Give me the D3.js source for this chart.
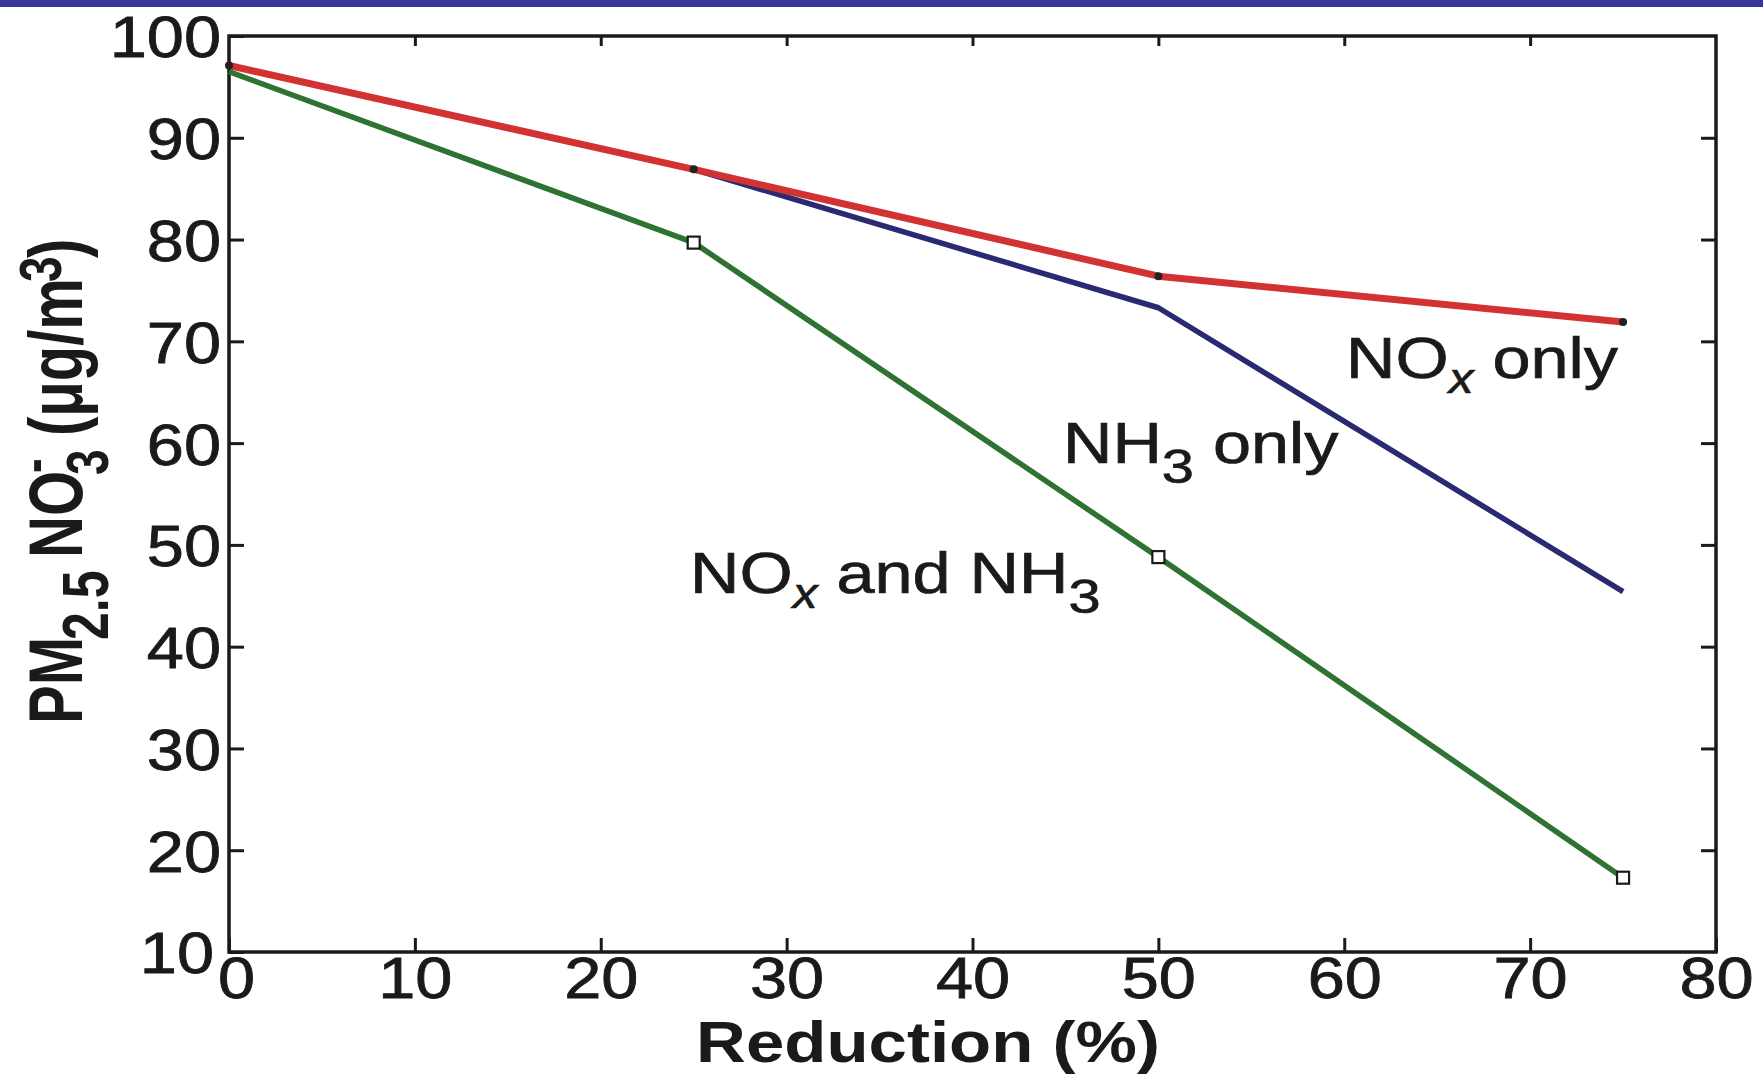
<!DOCTYPE html>
<html>
<head>
<meta charset="utf-8">
<script src="https://cdn.jsdelivr.net/npm/d3@7/dist/d3.min.js"></script>
<style>
  html, body { margin: 0; padding: 0; background: #fff; }
  svg { display: block; }
  text { font-family: "Liberation Sans", Arial, Helvetica, sans-serif; fill: #1a1a1a; }
</style>
</head>
<body>
<svg id="chart" width="1763" height="1076"></svg>
<script>
// ---- data ----
const reduction = [0, 25, 50, 75];
const noxOnly   = [97.1, 86.9, 76.4, 71.9];
const nh3Only   = [97.1, 86.9, 73.3, 45.4];
const noxAndNh3 = [96.5, 79.7, 48.8, 17.3];
const xTicks = [0, 10, 20, 30, 40, 50, 60, 70, 80];
const yTicks = [10, 20, 30, 40, 50, 60, 70, 80, 90, 100];
const xTitle = "Reduction (%)";

const svg = d3.select("#chart");
const W = 1763, H = 1076;
const L = 229, R = 1716, T = 36, B = 952;
const SX = 1.15; // horizontal stretch of the scanned text

const x = d3.scaleLinear().domain([0, 80]).range([L, R]);
const y = d3.scaleLinear().domain([10, 100]).range([B, T]);

// top banner
svg.append("rect").attr("x", 0).attr("y", 0).attr("width", W).attr("height", 7).attr("fill", "#35359a");

// axes (inward ticks on all sides)
const axStroke = "#1a1a1a";
function styleAxis(g) {
  g.select(".domain").remove();
  g.selectAll(".tick line").attr("stroke", axStroke).attr("stroke-width", 3);
}
const gx = svg.append("g").attr("transform", `translate(0,${B})`)
  .call(d3.axisBottom(x).tickValues(xTicks).tickSizeInner(-14).tickSizeOuter(0).tickFormat(d3.format("d")));
styleAxis(gx);
gx.selectAll(".tick text")
  .attr("y", null).attr("dy", null)
  .attr("text-anchor", "middle")
  .attr("transform", d => `translate(${d === 0 ? 7 : 0},46) scale(${SX},1)`)
  .style("font-size", "58px").attr("fill", "#1a1a1a")
  .attr("stroke", "#1a1a1a").attr("stroke-width", 0.8);

const gxt = svg.append("g").attr("transform", `translate(0,${T})`)
  .call(d3.axisTop(x).tickValues(xTicks.slice(1, -1)).tickSizeInner(-10).tickSizeOuter(0).tickFormat(""));
styleAxis(gxt);

const gy = svg.append("g").attr("transform", `translate(${L},0)`)
  .call(d3.axisLeft(y).tickValues(yTicks).tickSizeInner(-15).tickSizeOuter(0).tickFormat(d3.format("d")));
styleAxis(gy);
gy.selectAll(".tick text")
  .attr("x", null).attr("dy", "0.36em")
  .attr("text-anchor", "end")
  .attr("transform", d => `translate(${d === 10 ? -15 : -8},0) scale(${SX},1)`)
  .style("font-size", "58px").attr("fill", "#1a1a1a")
  .attr("stroke", "#1a1a1a").attr("stroke-width", 0.8);

const gyr = svg.append("g").attr("transform", `translate(${R},0)`)
  .call(d3.axisRight(y).tickValues(yTicks.slice(1, -1)).tickSizeInner(-15).tickSizeOuter(0).tickFormat(""));
styleAxis(gyr);

// frame
svg.append("rect").attr("x", L).attr("y", T).attr("width", R - L).attr("height", B - T)
  .attr("fill", "none").attr("stroke", axStroke).attr("stroke-width", 3.5);

// lines
const line = d3.line().x(d => x(d[0])).y(d => y(d[1]));
const series = [
  { vals: noxAndNh3, color: "#2e7332", w: 5.5 },
  { vals: nh3Only,   color: "#2a2a72", w: 5.5 },
  { vals: noxOnly,   color: "#d23232", w: 7 }
];
series.forEach(s => {
  svg.append("path").datum(reduction.map((r, i) => [r, s.vals[i]]))
    .attr("d", line).attr("fill", "none").attr("stroke", s.color)
    .attr("stroke-width", s.w).attr("stroke-linejoin", "round");
});

// markers
svg.selectAll(".dotRed").data(reduction.map((r, i) => [r, noxOnly[i]])).enter()
  .append("circle").attr("cx", d => x(d[0])).attr("cy", d => y(d[1])).attr("r", 4)
  .attr("fill", "#222");
svg.selectAll(".sqGreen").data(reduction.slice(1).map((r, i) => [r, noxAndNh3[i + 1]])).enter()
  .append("rect").attr("x", d => x(d[0]) - 6).attr("y", d => y(d[1]) - 6)
  .attr("width", 12).attr("height", 12).attr("fill", "#fff")
  .attr("stroke", "#1a1a1a").attr("stroke-width", 2.2);

// annotations
function label(px, py, parts) {
  const t = svg.append("text")
    .attr("transform", `translate(${px},${py}) scale(1.18,1)`)
    .attr("stroke", "#1a1a1a").attr("stroke-width", 0.7);
  parts.forEach(p => {
    const ts = t.append("tspan").text(p.t).style("font-size", p.fs + "px");
    if (p.dy) ts.attr("dy", p.dy);
    if (p.it) ts.style("font-style", "italic");
  });
}
label(1346, 378, [
  { t: "NO", fs: 58 }, { t: "x", fs: 42, dy: 15, it: true }, { t: " only", fs: 58, dy: -15 }
]);
label(1063, 463, [
  { t: "NH", fs: 58 }, { t: "3", fs: 49, dy: 20 }, { t: " only", fs: 58, dy: -20 }
]);
label(690, 593, [
  { t: "NO", fs: 58 }, { t: "x", fs: 42, dy: 15, it: true }, { t: " and NH", fs: 58, dy: -15 },
  { t: "3", fs: 49, dy: 20 }
]);

// x title
svg.append("text").attr("transform", `translate(928,1062) scale(1.19,1)`)
  .attr("text-anchor", "middle").style("font-size", "58px").style("font-weight", "bold")
  .text(xTitle);

// y title (rotated)
const yt = svg.append("text")
  .attr("transform", `translate(82,724) scale(1.3,1) rotate(-90)`)
  .style("font-weight", "bold");
const yParts = [
  { t: "PM", x: 0, y: 0, fs: 58 },
  { t: "2.5", x: 84, y: 20, fs: 50 },
  { t: "NO", x: 166, y: 0, fs: 58 },
  { t: "3", x: 249, y: 20, fs: 46 },
  { t: "-", x: 251, y: -22, fs: 44 },
  { t: "(μg/m", x: 288, y: 0, fs: 58 },
  { t: "3", x: 442, y: -16, fs: 46 },
  { t: ")", x: 466, y: 0, fs: 58 }
];
yParts.forEach(p => {
  yt.append("tspan").attr("x", p.x).attr("y", p.y).style("font-size", p.fs + "px").text(p.t);
});
</script>
</body>
</html>
